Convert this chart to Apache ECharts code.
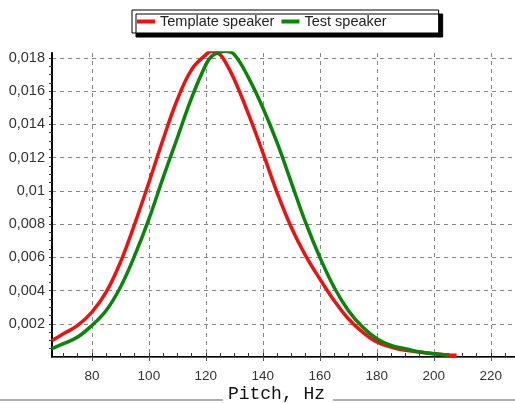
<!DOCTYPE html>
<html>
<head>
<meta charset="utf-8">
<script src="https://cdn.jsdelivr.net/npm/echarts@6/dist/echarts.min.js"></script>
<style>
  html, body { margin: 0; padding: 0; background: #fff; }
  #chart { width: 515px; height: 403px; }
</style>
</head>
<body>
<div id="chart"></div>
<script>
// pitch grid in Hz, shared by both curves
const pitchHz = [66, 70, 75, 80, 85, 90, 95, 100, 105, 110, 115, 120, 122, 125, 127, 130,
  135, 140, 145, 150, 155, 160, 165, 170, 175, 180, 185, 190, 195, 200, 205, 208];

const templateSpeaker = [0.0010, 0.0014, 0.0019, 0.0027, 0.0039, 0.0057, 0.0080, 0.0105,
  0.0131, 0.0155, 0.0173, 0.0182, 0.0184, 0.0182, 0.0177, 0.0167, 0.0146, 0.0123, 0.0099,
  0.0078, 0.0061, 0.0047, 0.0034, 0.0023, 0.0015, 0.0009, 0.0006, 0.0004, 0.0003, 0.0002,
  0.00012, 0.0001];

const testSpeaker = [0.0005, 0.0008, 0.0012, 0.0019, 0.0028, 0.0042, 0.0061, 0.0083,
  0.0108, 0.0132, 0.0156, 0.0176, 0.0181, 0.01835, 0.0184, 0.0182, 0.0168, 0.0150, 0.0129,
  0.0105, 0.0081, 0.0060, 0.0042, 0.0028, 0.0018, 0.0011, 0.0007, 0.0005, 0.0003, 0.0002,
  0.0001, null];

const xMajorTicks = [80, 100, 120, 140, 160, 180, 200, 220];
const xMinorTicks = [70, 75, 80, 85, 90, 95, 100, 105, 110, 115, 120, 125, 130, 135, 140,
  145, 150, 155, 160, 165, 170, 175, 180, 185, 190, 195, 200, 205, 210, 215, 220, 225];
const yMajorTicks = [0.002, 0.004, 0.006, 0.008, 0.01, 0.012, 0.014, 0.016, 0.018];
const yMinorTicks = [0.0005, 0.001, 0.0015, 0.002, 0.0025, 0.003, 0.0035, 0.004, 0.0045,
  0.005, 0.0055, 0.006, 0.0065, 0.007, 0.0075, 0.008, 0.0085, 0.009, 0.0095, 0.01, 0.0105,
  0.011, 0.0115, 0.012, 0.0125, 0.013, 0.0135, 0.014, 0.0145, 0.015, 0.0155, 0.016, 0.0165,
  0.017, 0.0175, 0.018];

const toPairs = (ys) => pitchHz.map((x, i) => [x, ys[i]]).filter((p) => p[1] != null);
const fmtComma = (v) => String(Number(v.toFixed(4))).replace(".", ",");

const sans = "Liberation Sans, Arial, sans-serif";
const gridLine = { show: true, lineStyle: { color: "#888", type: [4, 4], width: 1 } };

const chart = echarts.init(document.getElementById("chart"));

chart.setOption({
  backgroundColor: "#fff",
  animation: false,
  legend: {
    left: 132,
    top: 10,
    padding: [4, 52, 4, 5],
    itemGap: 7,
    itemWidth: 18,
    itemHeight: 4,
    icon: "rect",
    backgroundColor: "#fff",
    borderColor: "#000",
    borderWidth: 1,
    borderRadius: 0,
    shadowColor: "#000",
    shadowBlur: 0,
    shadowOffsetX: 4,
    shadowOffsetY: 4,
    textStyle: { color: "#222", fontSize: 14.5, lineHeight: 15, fontFamily: sans },
    data: ["Template speaker", "Test speaker"],
  },
  grid: { left: 52, right: 0, top: 53, bottom: 46, outerBoundsMode: "none", containLabel: false },
  xAxis: [
    {
      type: "value",
      position: "bottom",
      min: 66,
      max: 228.5,
      axisLine: { show: true, lineStyle: { color: "#000", width: 2 } },
      axisTick: { show: true, inside: true, length: 4, customValues: xMinorTicks, lineStyle: { color: "#333" } },
      axisLabel: { color: "#333", fontSize: 13.5, fontFamily: sans, margin: 12, customValues: xMajorTicks },
      splitLine: { show: false },
      name: "Pitch, Hz",
      nameLocation: "middle",
      nameGap: 28,
      nameMoveOverlap: false,
      nameTextStyle: {
        color: "#111",
        fontSize: 18,
        lineHeight: 18,
        fontFamily: "Liberation Mono, Courier New, monospace",
        padding: [0, 14, 0, 0],
      },
    },
    {
      type: "value",
      position: "top",
      min: 66,
      max: 228.5,
      axisLine: { show: true, lineStyle: { color: "#555", width: 1 } },
      axisTick: { show: true, inside: true, length: 4, customValues: xMajorTicks, lineStyle: { color: "#555" } },
      axisLabel: { show: false },
      splitLine: gridLine,
    },
  ],
  yAxis: [
    {
      type: "value",
      position: "left",
      min: 0,
      max: 0.0183,
      axisLine: { show: true, lineStyle: { color: "#000", width: 2 } },
      axisTick: { show: true, length: 3, customValues: yMinorTicks, lineStyle: { color: "#333" } },
      axisLabel: { color: "#333", fontSize: 14.5, fontFamily: sans, margin: 7, customValues: yMajorTicks, formatter: fmtComma },
      splitLine: { show: false },
    },
    {
      type: "value",
      position: "right",
      min: 0,
      max: 0.0183,
      axisLine: { show: false },
      axisTick: { show: false, customValues: yMajorTicks },
      axisLabel: { show: false },
      splitLine: gridLine,
    },
  ],
  graphic: [
    { type: "line", shape: { x1: 0, y1: 400, x2: 223, y2: 400 }, style: { stroke: "#b0b0b0", lineWidth: 2 } },
    { type: "line", shape: { x1: 333, y1: 400, x2: 515, y2: 400 }, style: { stroke: "#b0b0b0", lineWidth: 2 } },
  ],
  series: [
    {
      name: "Template speaker",
      type: "line",
      xAxisIndex: 0,
      yAxisIndex: 0,
      data: toPairs(templateSpeaker),
      smooth: 0.4,
      showSymbol: false,
      symbol: "none",
      color: "#ee1111",
      lineStyle: { width: 3.5, color: "#ee1111" },
    },
    {
      name: "Test speaker",
      type: "line",
      xAxisIndex: 0,
      yAxisIndex: 0,
      data: toPairs(testSpeaker),
      smooth: 0.4,
      showSymbol: false,
      symbol: "none",
      color: "#0a840a",
      lineStyle: { width: 3.5, color: "#0a840a" },
    },
  ],
});
</script>
</body>
</html>
